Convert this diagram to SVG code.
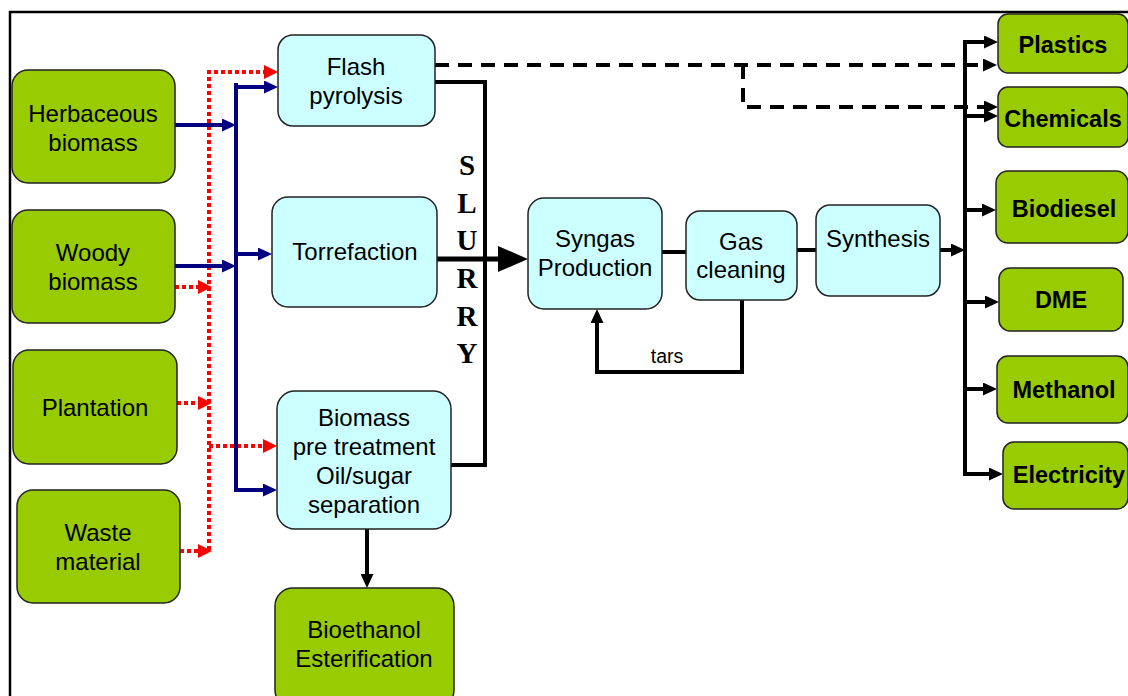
<svg xmlns="http://www.w3.org/2000/svg" width="1128" height="696" viewBox="0 0 1128 696">
<defs>
<style>
.g{fill:#99CC00;stroke:#222;stroke-width:1.5}
.c{fill:#CCFFFF;stroke:#222;stroke-width:1.5}
.t{font-family:"Liberation Sans",Arial,sans-serif;font-size:24px;fill:#000;text-anchor:middle}
.tb{font-family:"Liberation Sans",Arial,sans-serif;font-size:23.5px;font-weight:bold;fill:#000;text-anchor:middle}
.sl{font-family:"Liberation Serif","Times New Roman",serif;font-size:29px;font-weight:bold;fill:#000;text-anchor:middle}
.k{fill:none;stroke:#000;stroke-width:4}
.n{fill:none;stroke:#000080;stroke-width:4}
.r{fill:none;stroke:#FF0000;stroke-width:4;stroke-dasharray:4 3}
.d{fill:none;stroke:#000;stroke-width:4;stroke-dasharray:14 9}
</style>
<marker id="ab" markerUnits="userSpaceOnUse" markerWidth="14" markerHeight="13" refX="0" refY="6.5" orient="auto"><path d="M0,0 L14,6.5 L0,13 z" fill="#000"/></marker>
<marker id="an" markerUnits="userSpaceOnUse" markerWidth="14" markerHeight="13" refX="0" refY="6.5" orient="auto"><path d="M0,0 L14,6.5 L0,13 z" fill="#000080"/></marker>
<marker id="ar" markerUnits="userSpaceOnUse" markerWidth="14" markerHeight="14" refX="0" refY="7" orient="auto"><path d="M0,0 L14,7 L0,14 z" fill="#FF0000"/></marker>
<marker id="abig" markerUnits="userSpaceOnUse" markerWidth="30" markerHeight="26" refX="0" refY="13" orient="auto"><path d="M0,0 L30,13 L0,26 z" fill="#000"/></marker>
</defs>
<rect width="1128" height="696" fill="#fff"/>
<path d="M10,696 V12 H1128" fill="none" stroke="#000" stroke-width="2.5"/>

<g id="connectors">
<path class="r" d="M209,550 V72 H264" marker-end="url(#ar)"/>
<path class="r" d="M175,287 H198" marker-end="url(#ar)"/>
<path class="r" d="M177,403 H198" marker-end="url(#ar)"/>
<path class="r" d="M209,446 H263" marker-end="url(#ar)"/>
<path class="r" d="M180,551 H198" marker-end="url(#ar)"/>
<path class="n" d="M175,125 H222" marker-end="url(#an)"/>
<path class="n" d="M175,266 H222" marker-end="url(#an)"/>
<path class="n" d="M236,83 V490 H263" marker-end="url(#an)"/>
<path class="n" d="M238,87 H264" marker-end="url(#an)"/>
<path class="n" d="M236,254 H258" marker-end="url(#an)"/>
<path class="k" d="M435,82 H485 V467"/>
<path class="k" d="M451,465 H487"/>
<path class="k" style="stroke-width:5" d="M437,259 H498" marker-end="url(#abig)"/>
<path class="k" d="M662,252 H686"/>
<path class="k" d="M797,250 H816"/>
<path class="k" d="M742,300 V372 H597 V323" marker-end="url(#ab)"/>
<path class="k" d="M940,250 H951" marker-end="url(#ab)"/>
<path class="k" d="M965,40 V476"/>
<path class="k" d="M963,42 H984" marker-end="url(#ab)"/>
<path class="k" d="M965,116 H984" marker-end="url(#ab)"/>
<path class="k" d="M965,210 H982" marker-end="url(#ab)"/>
<path class="k" d="M965,302 H985" marker-end="url(#ab)"/>
<path class="k" d="M965,389 H983" marker-end="url(#ab)"/>
<path class="k" d="M963,474 H989" marker-end="url(#ab)"/>
<path class="k" d="M367,529 V574" marker-end="url(#ab)"/>
<path class="d" d="M435,65 H983" marker-end="url(#ab)"/>
<path class="d" d="M743,65 V107 H984" marker-end="url(#ab)"/>
<text class="t" x="667" y="363" style="font-size:19.5px">tars</text>
<g id="slurry">
<text class="sl" x="467" y="175">S</text>
<text class="sl" x="467" y="213">L</text>
<text class="sl" x="467" y="250">U</text>
<text class="sl" x="467" y="288">R</text>
<text class="sl" x="467" y="326">R</text>
<text class="sl" x="467" y="363">Y</text>
</g>
</g>

<g id="herbaceous"><rect class="g" x="12" y="70" width="163" height="113" rx="16"/><text class="t" x="93" y="122">Herbaceous</text><text class="t" x="93" y="151">biomass</text></g>
<g id="woody"><rect class="g" x="12" y="210" width="163" height="113" rx="16"/><text class="t" x="93" y="261">Woody</text><text class="t" x="93" y="290">biomass</text></g>
<g id="plantation"><rect class="g" x="13" y="350" width="164" height="114" rx="16"/><text class="t" x="95" y="416">Plantation</text></g>
<g id="waste"><rect class="g" x="17" y="490" width="163" height="113" rx="16"/><text class="t" x="98" y="541">Waste</text><text class="t" x="98" y="570">material</text></g>

<g id="flash"><rect class="c" x="278" y="35" width="157" height="91" rx="15"/><text class="t" x="356" y="75">Flash</text><text class="t" x="356" y="104">pyrolysis</text></g>
<g id="torrefaction"><rect class="c" x="272" y="197" width="165" height="110" rx="16"/><text class="t" x="355" y="260">Torrefaction</text></g>
<g id="pretreatment"><rect class="c" x="277" y="391" width="174" height="138" rx="18"/><text class="t" x="364" y="426">Biomass</text><text class="t" x="364" y="455">pre treatment</text><text class="t" x="364" y="484">Oil/sugar</text><text class="t" x="364" y="513">separation</text></g>
<g id="bioethanol"><rect class="g" x="275" y="588" width="179" height="120" rx="18"/><text class="t" x="364" y="638">Bioethanol</text><text class="t" x="364" y="667">Esterification</text></g>
<g id="syngas"><rect class="c" x="528" y="198" width="134" height="111" rx="16"/><text class="t" x="595" y="247">Syngas</text><text class="t" x="595" y="276">Production</text></g>
<g id="gascleaning"><rect class="c" x="686" y="211" width="111" height="89" rx="14"/><text class="t" x="741" y="250">Gas</text><text class="t" x="741" y="278">cleaning</text></g>
<g id="synthesis"><rect class="c" x="816" y="205" width="124" height="91" rx="14"/><text class="t" x="878" y="247">Synthesis</text></g>

<g id="plastics"><rect class="g" x="998" y="14" width="130" height="59" rx="10"/><text class="tb" x="1063" y="53">Plastics</text></g>
<g id="chemicals"><rect class="g" x="998" y="87" width="130" height="60" rx="10"/><text class="tb" x="1063" y="127">Chemicals</text></g>
<g id="biodiesel"><rect class="g" x="996" y="171" width="132" height="72" rx="12"/><text class="tb" x="1064" y="217">Biodiesel</text></g>
<g id="dme"><rect class="g" x="999" y="268" width="124" height="63" rx="11"/><text class="tb" x="1061" y="308">DME</text></g>
<g id="methanol"><rect class="g" x="997" y="356" width="131" height="67" rx="11"/><text class="tb" x="1064" y="398">Methanol</text></g>
<g id="electricity"><rect class="g" x="1003" y="442" width="125" height="67" rx="11"/><text class="tb" x="1069" y="483">Electricity</text></g>
</svg>
